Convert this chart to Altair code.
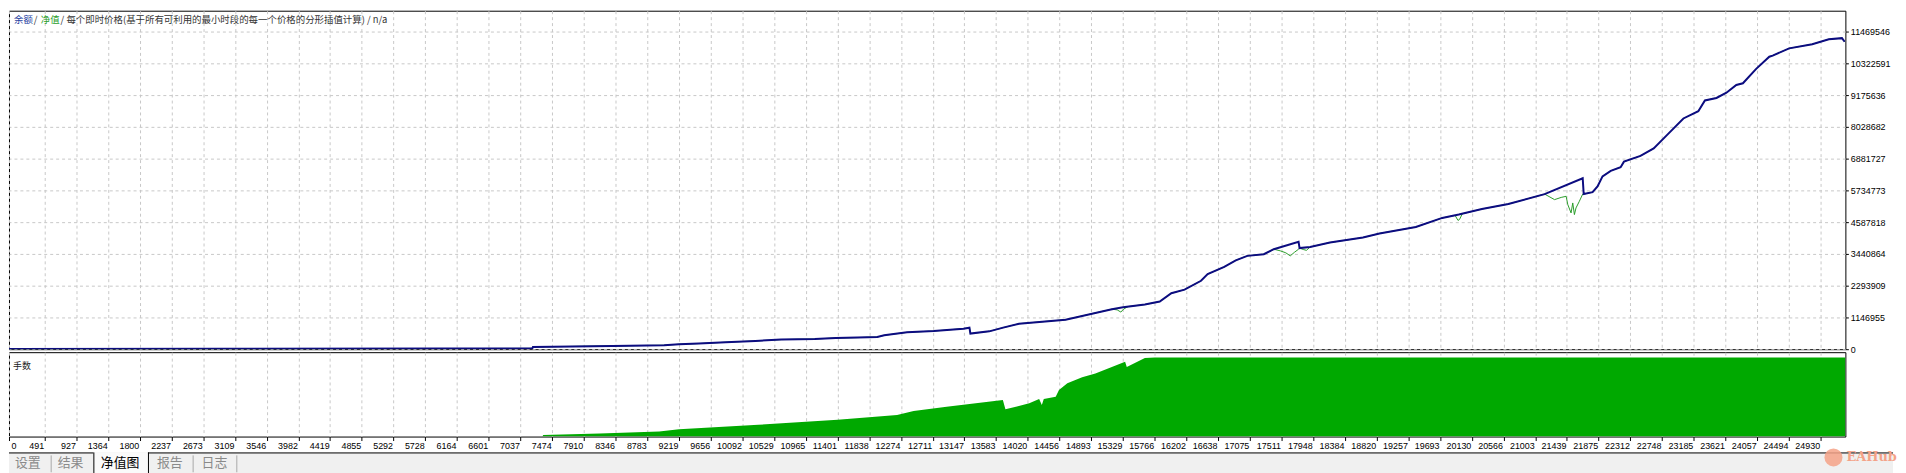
import altair as alt
import pandas as pd

# x axis: bar index tick labels
x_ticks = [0, 491, 927, 1364, 1800, 2237, 2673, 3109, 3546, 3982, 4419, 4855, 5292, 5728,
           6164, 6601, 7037, 7474, 7910, 8346, 8783, 9219, 9656, 10092, 10529, 10965, 11401,
           11838, 12274, 12711, 13147, 13583, 14020, 14456, 14893, 15329, 15766, 16202, 16638,
           17075, 17511, 17948, 18384, 18820, 19257, 19693, 20130, 20566, 21003, 21439, 21875,
           22312, 22748, 23185, 23621, 24057, 24494, 24930]
# right axis of the balance panel
y_ticks = [0, 1146955, 2293909, 3440864, 4587818, 5734773, 6881727, 8028682, 9175636,
           10322591, 11469546]

# balance curve
bal_x = [0, 3000, 6000, 7202, 7210, 8307, 9016, 9221, 9493, 9862, 10271, 10626, 11089, 11376,
         11676, 11949, 12044, 12358, 12726, 13135, 13217, 13230, 13490, 13681, 13899, 14540,
         15177, 15331, 15631, 15836, 15995, 16177, 16404, 16495, 16723, 16882, 17041, 17268,
         17405, 17746, 17760, 17905, 18178, 18632, 18860, 19360, 19723, 19951, 20269, 20633,
         21132, 21656, 21670, 21792, 21860, 21929, 22042, 22178, 22224, 22451, 22633, 22815,
         23042, 23247, 23338, 23497, 23634, 23770, 23861, 24043, 24224, 24270, 24497, 24815,
         25043, 25224, 25261]
bal_y = [10000, 14000, 22000, 30000, 82000, 118000, 143000, 179000, 204000, 251000, 298000,
         348000, 369000, 405000, 419000, 441000, 502000, 609000, 656000, 742000, 778000, 563000,
         645000, 778000, 921000, 1065000, 1445000, 1517000, 1613000, 1720000, 2020000, 2150000,
         2470000, 2710000, 2970000, 3210000, 3370000, 3430000, 3610000, 3880000, 3650000,
         3690000, 3850000, 4030000, 4180000, 4410000, 4740000, 4860000, 5060000, 5240000,
         5600000, 6170000, 5600000, 5670000, 5880000, 6240000, 6440000, 6570000, 6770000,
         6980000, 7250000, 7730000, 8330000, 8590000, 8980000, 9070000, 9260000, 9540000,
         9600000, 10120000, 10560000, 10600000, 10860000, 11010000, 11190000, 11230000,
         11100000]

# equity drawdowns (where equity leaves the balance line)
dd1_x = [15177, 15250, 15300, 15340, 15400]
dd1_y = [1445000, 1420000, 1340000, 1450000, 1539000]
dd2_x = [17405, 17496, 17570, 17632, 17690, 17746, 17760, 17810, 17855, 17905]
dd2_y = [3610000, 3550000, 3480000, 3370000, 3500000, 3610000, 3650000, 3600000, 3570000, 3690000]
dd3_x = [19900, 19940, 19960, 20000]
dd3_y = [4830000, 4650000, 4680000, 4890000]
dd4_x = [21132, 21269, 21360, 21428, 21451, 21496, 21519, 21542, 21564, 21610, 21656]
dd4_y = [5600000, 5400000, 5480000, 5520000, 5220000, 4920000, 5280000, 4860000, 5100000,
         5340000, 5600000]

# lots
lots_x = [7340, 7352, 8129, 8948, 9221, 10312, 11403, 12221, 12449, 12903, 13677, 13712, 14040,
          14176, 14213, 14240, 14404, 14449, 14564, 14768, 14950, 15359, 15382, 15631, 15768, 25271]
lots_y = [0, 1.0, 1.9, 3.2, 4.6, 7.4, 10.6, 13.6, 16.2, 18.9, 23.1, 17.2, 21.0, 23.7, 20.0, 23.8,
          25.2, 29.4, 33.6, 37.4, 39.9, 47.2, 44.0, 49.7, 50.0, 50.0]

tab_names = ["设置", "结果", "净值图", "报告", "日志"]
active_tab = "净值图"

# build tables
bal = pd.DataFrame({"bar": bal_x, "value": bal_y})
dips = [(dd1_x, dd1_y), (dd2_x, dd2_y), (dd3_x, dd3_y), (dd4_x, dd4_y)]
keep = bal.copy()
for dx, dy in dips:
    keep = keep[(keep["bar"] < min(dx)) | (keep["bar"] > max(dx))]
eq = pd.concat([keep] + [pd.DataFrame({"bar": dx, "value": dy}) for dx, dy in dips])
eq = eq.sort_values("bar")
lots = pd.DataFrame({"bar": lots_x, "lots": lots_y})

x_scale = alt.Scale(domain=[0, 25271], nice=False, zero=False)
grid = dict(grid=True, gridColor="#c8c8c8", gridDash=[3, 3], gridWidth=1)
one = pd.DataFrame({"k": [0]})


def text_at(txt, px, py, color, size=9.5, font="Noto Sans CJK SC", align="left", weight="normal"):
    return alt.Chart(pd.DataFrame({"t": [txt]})).mark_text(
        align=align, baseline="middle", font=font, fontSize=size, color=color, fontWeight=weight
    ).encode(x=alt.value(px), y=alt.value(py), text="t:N")


def rule_at(x1, x2, y1, y2, color):
    return alt.Chart(one).mark_rule(color=color, strokeWidth=1).encode(
        x=alt.value(x1), x2=alt.value(x2), y=alt.value(y1), y2=alt.value(y2)
    )


# top panel: balance / equity
eq_line = alt.Chart(eq).mark_line(color="#2a9d2a", strokeWidth=1, clip=True).encode(
    x=alt.X("bar:Q", scale=x_scale,
            axis=alt.Axis(values=x_ticks, tickCount=100, labels=False, ticks=False, domain=False,
                          title=None, **grid)),
    y=alt.Y("value:Q", scale=alt.Scale(domain=[0, 12220000], nice=False),
            axis=alt.Axis(orient="right", values=y_ticks, tickCount=20, format="d", title=None,
                          domain=False, tickSize=3, tickColor="black", labelFont="Liberation Sans",
                          labelFontSize=9, labelColor="black", labelPadding=2,
                          labelOverlap=False, labelFlush=False, **grid)),
)
bal_line = alt.Chart(bal).mark_line(color="#0c0c80", strokeWidth=2, clip=True).encode(
    x="bar:Q", y="value:Q"
)
top = alt.layer(
    eq_line, bal_line,
    text_at("余额", 5, 9, "#1f3f9f"),
    text_at("/", 25, 9, "#333333"),
    text_at("净值", 32, 9, "#2a9d2a"),
    text_at("/ 每个即时价格(基于所有可利用的最小时段的每一个价格的分形插值计算) / n/a", 52, 9, "#333333"),
).properties(width=1850, height=341)

# bottom panel: lots, with the tester tab strip drawn below its axis
lots_area = alt.Chart(lots).mark_area(color="#00a900", clip=True).encode(
    x=alt.X("bar:Q", scale=x_scale,
            axis=alt.Axis(values=x_ticks, tickCount=100, format="d", title=None, domain=False,
                          tickSize=4, tickColor="black", labelFont="Liberation Sans",
                          labelFontSize=9, labelColor="black", labelPadding=1,
                          labelBaseline="top", labelFlush=False, labelOverlap=False,
                          labelAlign={"condition": {"test": "datum.value == 0", "value": "left"},
                                      "value": "right"},
                          labelOffset={"condition": {"test": "datum.value == 0", "value": 2},
                                       "value": -1},
                          **grid)),
    y=alt.Y("lots:Q", scale=alt.Scale(domain=[0, 53.3], nice=False), axis=None),
)

strip_top = 101
tab_bg = alt.Chart(one).mark_rect(color="#f0f0f0").encode(
    x=alt.value(0), x2=alt.value(1898), y=alt.value(strip_top), y2=alt.value(strip_top + 21)
)
tab_active = alt.Chart(one).mark_rect(color="#fafafa").encode(
    x=alt.value(85), x2=alt.value(140), y=alt.value(strip_top), y2=alt.value(strip_top + 21)
)
tab_rules = [
    rule_at(0, 85, strip_top + 0.5, strip_top + 0.5, "#000000"),
    rule_at(140, 1898, strip_top + 0.5, strip_top + 0.5, "#000000"),
    rule_at(85.5, 85.5, strip_top, strip_top + 21, "#000000"),
    rule_at(140.5, 140.5, strip_top, strip_top + 21, "#000000"),
    rule_at(42.5, 42.5, strip_top + 3, strip_top + 20, "#a8a8a8"),
    rule_at(185.5, 185.5, strip_top + 3, strip_top + 20, "#a8a8a8"),
    rule_at(229.5, 229.5, strip_top + 3, strip_top + 20, "#a8a8a8"),
]
tab_centers = [19, 62, 112, 162, 207]
tab_texts = [
    text_at(n, cx, strip_top + 11, "#000000" if n == active_tab else "#8a8a8a", size=13, align="center")
    for n, cx in zip(tab_names, tab_centers)
]
logo = alt.Chart(one).mark_point(shape="circle", filled=True, size=330, color="#f4a287", opacity=0.85).encode(
    x=alt.value(1838), y=alt.value(strip_top + 5)
)
logo_text = text_at("EAHub", 1851, strip_top + 5, "#f4a287", size=13, font="DejaVu Serif", weight="bold")

bottom = alt.layer(
    lots_area, text_at("手数", 4, 14, "#222222", 9),
    tab_bg, tab_active, *tab_rules, *tab_texts, logo, logo_text,
).properties(width=1850, height=85)

chart = alt.vconcat(top, bottom, spacing=3, bounds="flush").resolve_scale(
    x="independent", y="independent"
).properties(padding=0, background="white").configure_view(stroke="black", strokeWidth=1)

chart.save("out.html", embed_options={"renderer": "svg", "actions": False})
